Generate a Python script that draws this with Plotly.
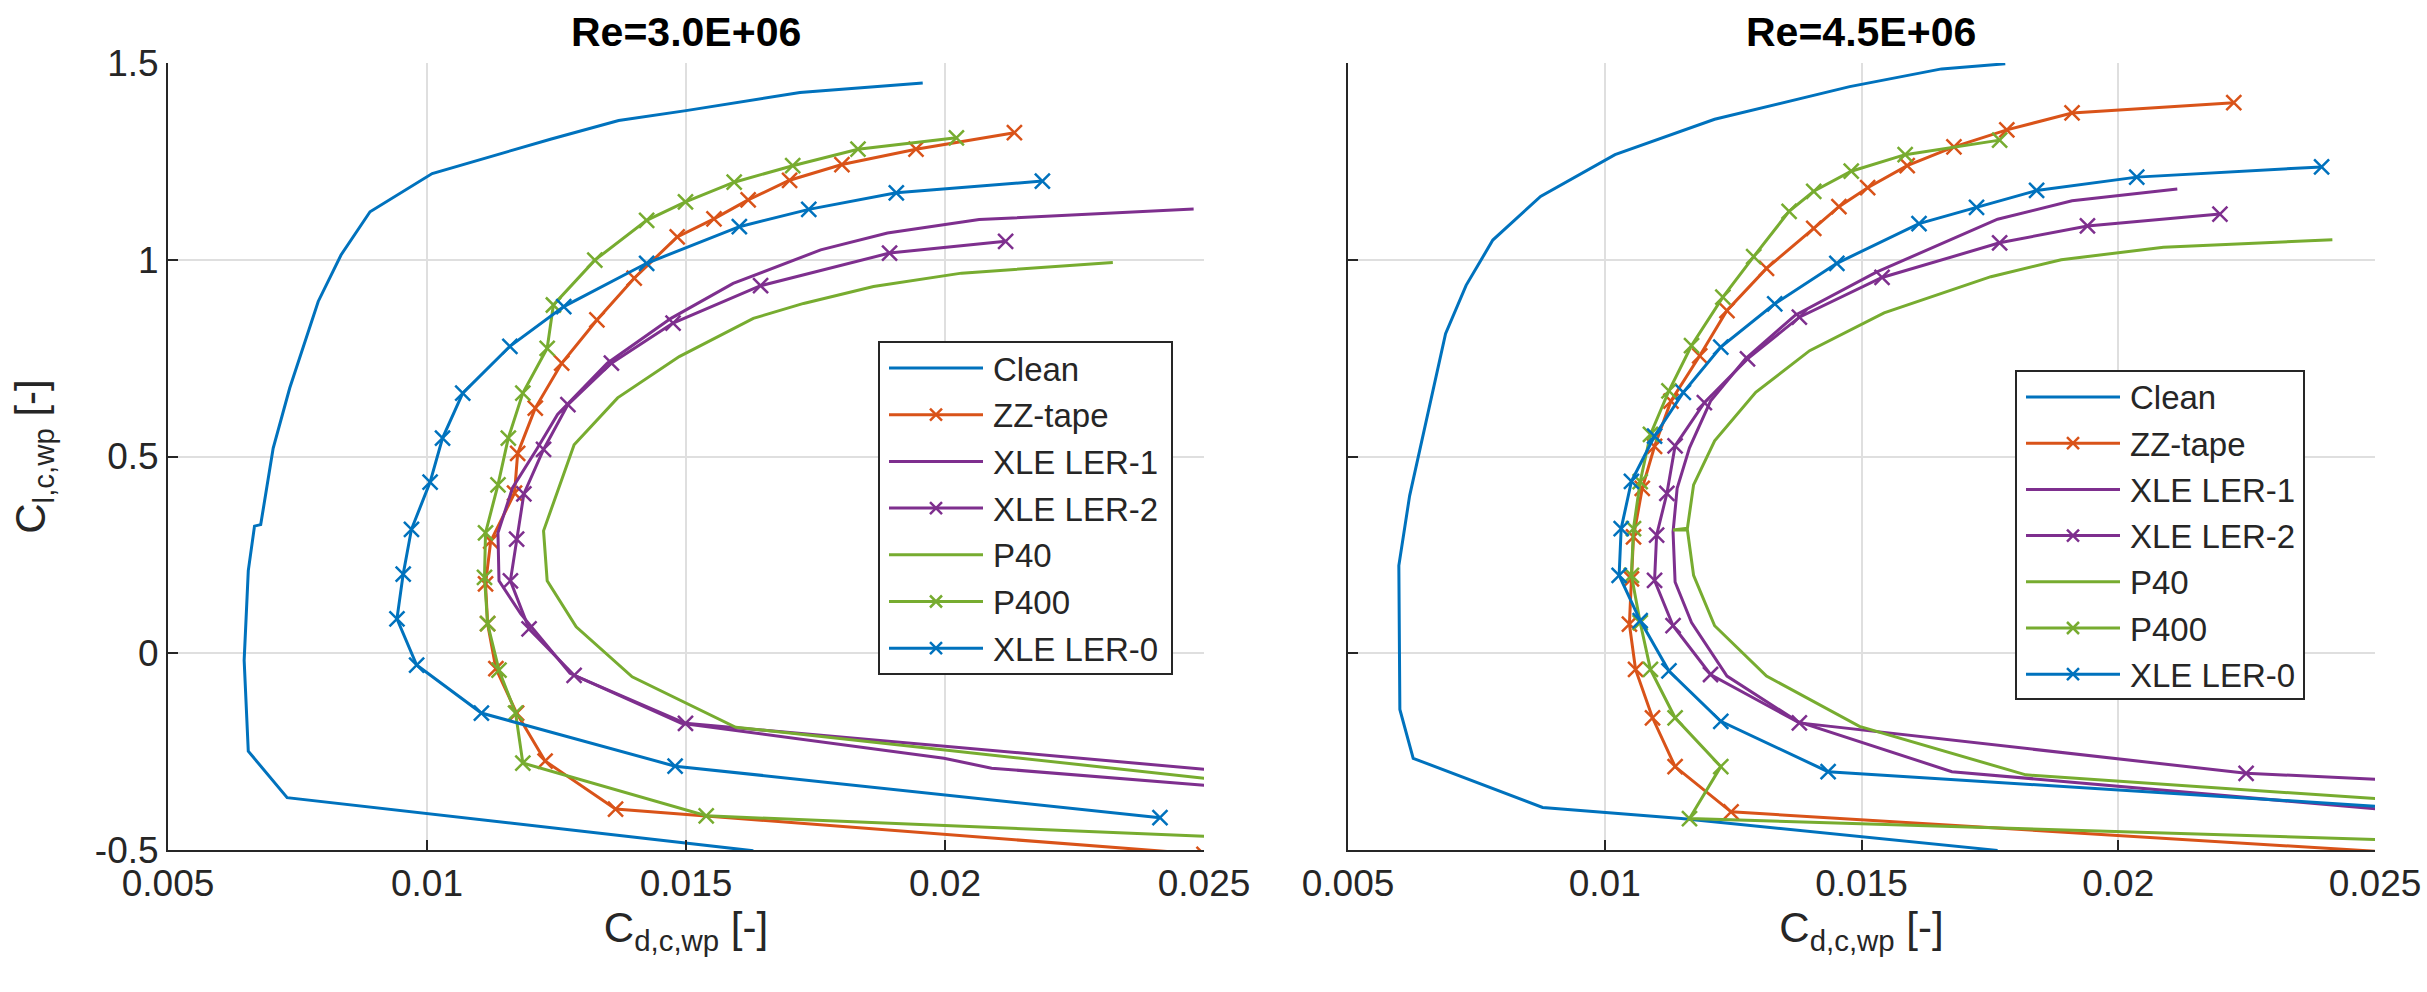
import plotly.graph_objects as go

# ---------------- Data: Re = 3.0E+06 ----------------
re30_clean_cd = [0.0163, 0.0073, 0.00655, 0.00647, 0.00655, 0.00667, 0.00679, 0.00703, 0.00735, 0.0079, 0.00834, 0.0089, 0.0101, 0.0124, 0.0137, 0.015, 0.0172, 0.01957]
re30_clean_cl = [-0.502, -0.367, -0.249, -0.018, 0.210, 0.323, 0.327, 0.521, 0.674, 0.894, 1.012, 1.122, 1.219, 1.307, 1.354, 1.379, 1.425, 1.449]

re30_zz_cd = [0.0250, 0.01364, 0.01228, 0.01173, 0.01133, 0.01117, 0.01113, 0.01123, 0.01169, 0.01175, 0.01209, 0.0126, 0.01328, 0.014, 0.01483, 0.01554, 0.0162, 0.017, 0.01801, 0.01944, 0.02134]
re30_zz_cl = [-0.511, -0.396, -0.274, -0.152, -0.039, 0.075, 0.176, 0.285, 0.407, 0.508, 0.623, 0.737, 0.847, 0.953, 1.058, 1.104, 1.152, 1.202, 1.242, 1.281, 1.323]

re30_ler1_cd = [0.0270, 0.0209, 0.01998, 0.01491, 0.01276, 0.01181, 0.01139, 0.01137, 0.01165, 0.01213, 0.01252, 0.01348, 0.01471, 0.01591, 0.0176, 0.01889, 0.02066, 0.0248]
re30_ler1_cl = [-0.357, -0.292, -0.267, -0.178, -0.051, 0.100, 0.184, 0.306, 0.420, 0.521, 0.607, 0.737, 0.851, 0.940, 1.025, 1.068, 1.102, 1.129]

re30_ler2_cd = [0.0270, 0.01499, 0.01284, 0.01197, 0.01161, 0.01173, 0.01187, 0.01225, 0.01272, 0.01356, 0.01475, 0.01644, 0.01893, 0.02117]
re30_ler2_cl = [-0.318, -0.178, -0.056, 0.062, 0.184, 0.290, 0.405, 0.518, 0.632, 0.737, 0.839, 0.934, 1.017, 1.047]

re30_p40_cd = [0.0270, 0.01596, 0.01396, 0.01288, 0.01232, 0.01225, 0.01284, 0.01368, 0.01487, 0.0163, 0.01727, 0.01862, 0.02032, 0.02324]
re30_p40_cl = [-0.346, -0.188, -0.060, 0.067, 0.184, 0.311, 0.530, 0.649, 0.754, 0.851, 0.889, 0.932, 0.966, 0.993]

re30_p400_cd = [0.0265, 0.01539, 0.01185, 0.01171, 0.01139, 0.01117, 0.01111, 0.01113, 0.01137, 0.01157, 0.01185, 0.01232, 0.01244, 0.01324, 0.01424, 0.01499, 0.01593, 0.01706, 0.01832, 0.02022]
re30_p400_cl = [-0.473, -0.413, -0.279, -0.152, -0.043, 0.075, 0.193, 0.306, 0.428, 0.547, 0.661, 0.775, 0.885, 0.999, 1.100, 1.147, 1.197, 1.239, 1.281, 1.310]

re30_ler0_cd = [0.02415, 0.01479, 0.01105, 0.0098, 0.00942, 0.00954, 0.0097, 0.01006, 0.0103, 0.01069, 0.0116, 0.01264, 0.01424, 0.01603, 0.01737, 0.01906, 0.02188]
re30_ler0_cl = [-0.418, -0.287, -0.152, -0.030, 0.0875, 0.201, 0.315, 0.435, 0.547, 0.661, 0.780, 0.881, 0.991, 1.084, 1.128, 1.170, 1.200]

# ---------------- Data: Re = 4.5E+06 ----------------
re45_clean_cd = [0.01765, 0.01149, 0.00879, 0.00627, 0.00601, 0.00599, 0.00599, 0.0062, 0.0069, 0.0073, 0.00782, 0.00875, 0.0102, 0.01214, 0.01477, 0.01656, 0.0178]
re45_clean_cl = [-0.501, -0.420, -0.392, -0.267, -0.143, 0.095, 0.223, 0.400, 0.812, 0.935, 1.050, 1.161, 1.267, 1.357, 1.440, 1.485, 1.498]

re45_zz_cd = [0.0270, 0.01246, 0.01137, 0.01093, 0.0106, 0.01048, 0.01052, 0.01056, 0.01073, 0.01097, 0.01129, 0.01185, 0.01238, 0.01315, 0.01407, 0.01456, 0.01512, 0.01589, 0.0168, 0.01783, 0.0191, 0.02225]
re45_zz_cl = [-0.519, -0.403, -0.288, -0.164, -0.041, 0.074, 0.189, 0.296, 0.419, 0.526, 0.641, 0.756, 0.871, 0.978, 1.080, 1.135, 1.183, 1.239, 1.287, 1.330, 1.373, 1.399]

re45_ler1_cd = [0.0270, 0.01676, 0.01375, 0.01238, 0.01169, 0.01137, 0.01133, 0.01141, 0.01165, 0.01206, 0.01274, 0.01371, 0.01528, 0.01765, 0.0191, 0.02115]
re45_ler1_cl = [-0.418, -0.301, -0.173, -0.058, 0.078, 0.181, 0.308, 0.419, 0.522, 0.641, 0.748, 0.859, 0.968, 1.103, 1.150, 1.180]

re45_ler2_cd = [0.0270, 0.02249, 0.01379, 0.01206, 0.01133, 0.01097, 0.01101, 0.01121, 0.01137, 0.01194, 0.01278, 0.01379, 0.0154, 0.01769, 0.0194, 0.02198]
re45_ler2_cl = [-0.332, -0.305, -0.177, -0.054, 0.070, 0.185, 0.300, 0.406, 0.527, 0.637, 0.748, 0.854, 0.955, 1.043, 1.086, 1.116]

re45_p40_cd = [0.0270, 0.0182, 0.01496, 0.01315, 0.01214, 0.01173, 0.01161, 0.01133, 0.01161, 0.01173, 0.01214, 0.01294, 0.01399, 0.01544, 0.01752, 0.01889, 0.02088, 0.02417]
re45_p40_cl = [-0.387, -0.309, -0.186, -0.058, 0.070, 0.198, 0.313, 0.313, 0.318, 0.428, 0.540, 0.663, 0.769, 0.865, 0.957, 1.000, 1.032, 1.051]

re45_p400_cd = [0.0270, 0.01165, 0.01226, 0.01137, 0.01089, 0.01069, 0.01052, 0.01056, 0.01069, 0.01089, 0.01125, 0.01169, 0.0123, 0.0129, 0.01359, 0.01407, 0.0148, 0.01585, 0.01769]
re45_p400_cl = [-0.481, -0.420, -0.288, -0.164, -0.041, 0.078, 0.198, 0.317, 0.436, 0.556, 0.667, 0.782, 0.905, 1.008, 1.123, 1.174, 1.225, 1.267, 1.304]

re45_ler0_cd = [0.0270, 0.01435, 0.01226, 0.01125, 0.01069, 0.01028, 0.01032, 0.01052, 0.01097, 0.01153, 0.01226, 0.01331, 0.01452, 0.01612, 0.01724, 0.01841, 0.02036, 0.02396]
re45_ler0_cl = [-0.405, -0.301, -0.173, -0.045, 0.083, 0.198, 0.317, 0.437, 0.552, 0.663, 0.778, 0.888, 0.991, 1.092, 1.133, 1.176, 1.210, 1.236]

# ---------------- Labels ----------------
series_names = ["Clean", "ZZ-tape", "XLE LER-1", "XLE LER-2", "P40", "P400", "XLE LER-0"]
panel_titles = ["Re=3.0E+06", "Re=4.5E+06"]
x_tickvals = [0.005, 0.01, 0.015, 0.02, 0.025]
x_ticktext = ["0.005", "0.01", "0.015", "0.02", "0.025"]
y_tickvals = [-0.5, 0, 0.5, 1, 1.5]
y_ticktext = ["-0.5", "0", "0.5", "1", "1.5"]

# ---------------- Styles ----------------
BLUE = "#0072BD"
ORANGE = "#D95319"
PURPLE = "#7E2F8E"
GREEN = "#77AC30"
AXC = "#262626"
FONT = "Liberation Sans, Arial, Helvetica, sans-serif"

styles = [
    (BLUE, False),
    (ORANGE, True),
    (PURPLE, False),
    (PURPLE, True),
    (GREEN, False),
    (GREEN, True),
    (BLUE, True),
]

panels = [
    [(re30_clean_cd, re30_clean_cl), (re30_zz_cd, re30_zz_cl), (re30_ler1_cd, re30_ler1_cl),
     (re30_ler2_cd, re30_ler2_cl), (re30_p40_cd, re30_p40_cl), (re30_p400_cd, re30_p400_cl),
     (re30_ler0_cd, re30_ler0_cl)],
    [(re45_clean_cd, re45_clean_cl), (re45_zz_cd, re45_zz_cl), (re45_ler1_cd, re45_ler1_cl),
     (re45_ler2_cd, re45_ler2_cl), (re45_p40_cd, re45_p40_cl), (re45_p400_cd, re45_p400_cl),
     (re45_ler0_cd, re45_ler0_cl)],
]

fig = go.Figure()
for p, data in enumerate(panels):
    xa = "x" if p == 0 else "x2"
    ya = "y" if p == 0 else "y2"
    for (cd, cl), name, (color, mk) in zip(data, series_names, styles):
        fig.add_trace(go.Scatter(
            x=cd, y=cl, name=name, xaxis=xa, yaxis=ya, showlegend=False,
            mode="lines+markers" if mk else "lines",
            line=dict(color=color, width=3),
            marker=dict(symbol="x-thin", size=15, color=color,
                        line=dict(color=color, width=2.5)),
        ))

W, H = 2427, 992
left_dom = [168 / W, 1204 / W]
right_dom = [1348 / W, 2375 / W]
y_dom = [(H - 850) / H, (H - 63) / H]

common_x = dict(
    range=[0.005, 0.025], tickvals=x_tickvals, ticktext=x_ticktext,
    showgrid=True, gridcolor="#DFDFDF", gridwidth=1.5,
    showline=True, linecolor=AXC, linewidth=2, zeroline=False,
    ticks="inside", ticklen=10, tickwidth=2, tickcolor=AXC,
    tickfont=dict(size=37, color=AXC, family=FONT),
    title=dict(text="C<sub>d,c,wp</sub> [-]", font=dict(size=42, color=AXC, family=FONT), standoff=6),
    automargin=False,
)
common_y = dict(
    range=[-0.5, 1.5], tickvals=y_tickvals, ticktext=y_ticktext, domain=y_dom,
    showgrid=True, gridcolor="#DFDFDF", gridwidth=1.5,
    showline=True, linecolor=AXC, linewidth=2, zeroline=False,
    ticks="inside", ticklen=10, tickwidth=2, tickcolor=AXC,
    tickfont=dict(size=37, color=AXC, family=FONT),
    automargin=False,
)


# ---------------- Hand-drawn legend boxes (MATLAB style) ----------------
def px(xp):
    return xp / W


def py(yp):
    return 1 - yp / H


shapes = []
annotations = []


def add_legend(box, first_y, step):
    left, top, right, bottom = box
    shapes.append(dict(type="rect", xref="paper", yref="paper", layer="above",
                       x0=px(left), x1=px(right), y0=py(bottom), y1=py(top),
                       fillcolor="white", line=dict(color=AXC, width=2)))
    for i, (name, (color, mk)) in enumerate(zip(series_names, styles)):
        cy = first_y + i * step
        x0, x1 = left + 10, left + 104
        shapes.append(dict(type="line", xref="paper", yref="paper", layer="above",
                           x0=px(x0), x1=px(x1), y0=py(cy), y1=py(cy),
                           line=dict(color=color, width=3)))
        if mk:
            cx = (x0 + x1) / 2
            r = 6
            for sgn in (1, -1):
                shapes.append(dict(type="line", xref="paper", yref="paper", layer="above",
                                   x0=px(cx - r), x1=px(cx + r), y0=py(cy - sgn * r), y1=py(cy + sgn * r),
                                   line=dict(color=color, width=2.5)))
        annotations.append(dict(text=name, x=px(left + 112), y=py(cy + 1), xref="paper", yref="paper",
                                showarrow=False, xanchor="left", yanchor="middle",
                                font=dict(size=33, color=AXC, family=FONT)))


add_legend((879, 342, 1172, 674), 368, 46.7)
add_legend((2016, 371, 2304, 699), 397, 46.2)

for t, dom in zip(panel_titles, [left_dom, right_dom]):
    annotations.append(dict(text="<b>%s</b>" % t, x=sum(dom) / 2, y=py(32),
                            xref="paper", yref="paper", showarrow=False,
                            xanchor="center", yanchor="middle",
                            font=dict(size=41, color="black", family=FONT)))

fig.update_layout(
    width=W, height=H,
    margin=dict(l=0, r=0, t=0, b=0),
    paper_bgcolor="white", plot_bgcolor="white",
    font=dict(family=FONT, color=AXC),
    showlegend=False,
    xaxis=dict(common_x, domain=left_dom, anchor="y"),
    yaxis=dict(common_y, anchor="x",
               title=dict(text="C<sub>l,c,wp</sub> [-]", font=dict(size=42, color=AXC, family=FONT), standoff=36)),
    xaxis2=dict(common_x, domain=right_dom, anchor="y2"),
    yaxis2=dict(common_y, anchor="x2", showticklabels=False),
    shapes=shapes,
    annotations=annotations,
)

fig.write_html("out.html")
